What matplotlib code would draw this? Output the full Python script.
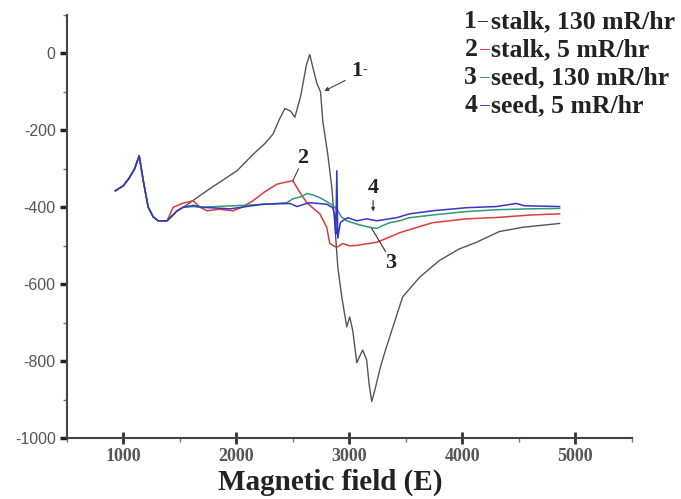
import numpy as np
import matplotlib.pyplot as plt
from matplotlib.ticker import MultipleLocator

# common start of all four spectra
start_x = [930, 1000, 1050, 1100, 1141, 1177, 1221, 1265, 1309, 1388, 1440, 1477, 1530]
start_y = [-357, -344, -325, -300, -266, -331, -400, -425, -435, -435, -420, -409, -400]

# 1 - stalk, 130 mR/hr
x1 = start_x + [1591, 1700, 1800, 2006, 2150, 2250, 2324, 2380, 2430, 2480, 2518, 2570,
                2620, 2650, 2680, 2712, 2745, 2765, 2809, 2845, 2870, 2898, 2933, 2977,
                3003, 3030, 3066, 3095, 3118, 3153, 3175, 3198, 3230, 3268, 3310, 3357,
                3471, 3621, 3798, 3974, 4124, 4327, 4530, 4860]
y1 = start_y + [-388, -365, -345, -305, -262, -235, -210, -172, -143, -150, -166, -110,
                -30, -3, -40, -77, -100, -176, -262, -349, -440, -556, -633, -711,
                -685, -720, -804, -785, -771, -797, -860, -905, -870, -823, -780, -737,
                -633, -582, -538, -508, -491, -463, -452, -442]

# 2 - stalk, 5 mR/hr
x2 = start_x[:-3] + [1441, 1520, 1618, 1680, 1741, 1850, 1971, 2050, 2147, 2250, 2359, 2430,
                     2500, 2560, 2624, 2690, 2739, 2800, 2827, 2860, 2889, 2942, 3000, 3066,
                     3150, 3242, 3350, 3445, 3533, 3736, 4036, 4327, 4600, 4860]
y2 = start_y[:-3] + [-400, -390, -383, -400, -409, -405, -409, -400, -383, -360, -340, -335,
                     -331, -360, -388, -405, -417, -452, -494, -500, -504, -494, -500, -499,
                     -495, -491, -478, -466, -458, -440, -430, -426, -420, -417]

# 3 - seed, 130 mR/hr
x3 = start_x + [1620, 1680, 1971, 2271, 2447, 2500, 2536, 2580, 2624, 2680, 2739, 2800,
                2853, 2889, 2930, 2977, 3080, 3180, 3242, 3300, 3357, 3445, 3533, 3736,
                4036, 4327, 4600, 4860]
y3 = start_y + [-398, -400, -396, -392, -388, -378, -375, -372, -364, -368, -375, -385,
                -395, -405, -425, -435, -445, -452, -455, -447, -440, -435, -427, -420,
                -411, -406, -404, -403]

# 4 - seed, 5 mR/hr
x4 = start_x + [1620, 1700, 1944, 2236, 2474, 2536, 2600, 2650, 2800, 2853, 2870, 2880,
                2889, 2898, 2920, 2942, 2986, 3066, 3153, 3242, 3418, 3533, 3736, 4036,
                4300, 4477, 4550, 4860]
y4 = start_y + [-395, -400, -404, -392, -390, -398, -392, -388, -392, -401, -420, -470,
                -305, -480, -440, -435, -427, -435, -430, -435, -427, -417, -409, -401,
                -398, -390, -396, -398]

legend_num = ['1', '2', '3', '4']
legend_txt = ['stalk, 130 mR/hr', 'stalk, 5 mR/hr', 'seed, 130 mR/hr', 'seed, 5 mR/hr']
colors = ['#555555', '#e03a3a', '#2f9a70', '#3535c8']
yticks = [-1000, -800, -600, -400, -200, 0]
xticks = [1000, 2000, 3000, 4000, 5000]

fig = plt.figure(figsize=(6.81, 4.99), dpi=100)
ax = fig.add_axes([0.098, 0.122, 0.83, 0.848])

ax.plot(x1, y1, color=colors[0], lw=1.0)
ax.plot(x2, y2, color=colors[1], lw=1.1)
ax.plot(x3, y3, color=colors[2], lw=1.1)
ax.plot(x4, y4, color=colors[3], lw=1.1)

ax.set_xlim(500, 5500)
ax.set_ylim(-1000, 100)
ax.xaxis.set_minor_locator(MultipleLocator(500))
ax.yaxis.set_minor_locator(MultipleLocator(100))
ax.set_xticks(xticks)
ax.set_xticklabels([str(v) for v in xticks], family='Liberation Serif', fontweight='bold')
ax.set_yticks(yticks)
ax.set_yticklabels([str(v) for v in yticks], family='Liberation Sans')
ax.spines['top'].set_visible(False)
ax.spines['right'].set_visible(False)
ax.spines['left'].set_linewidth(1.5)
ax.spines['bottom'].set_linewidth(1.5)
ax.spines['left'].set_color('#444444')
ax.spines['bottom'].set_color('#444444')
ax.tick_params(axis='y', which='major', direction='out', length=5, width=2.5, color='#222222',
               labelsize=11.5, labelcolor='#555555', pad=3)
ax.tick_params(axis='x', which='major', direction='inout', length=8, width=2, color='#333333',
               labelsize=13, labelcolor='#555555', pad=3)
ax.tick_params(which='minor', direction='out', length=3, width=1, color='#777777')

fig.text(0.485, 0.034, 'Magnetic field (E)', ha='center', va='center',
         family='Liberation Serif', fontweight='bold', fontsize=21, color='#222222')

# curve labels
lbl = dict(family='Liberation Serif', fontweight='bold', fontsize=16, color='#222222')
ax.text(3020, -45, '1', ha='left', va='center', **lbl)
ax.text(3120, -45, '-', ha='left', va='center', family='Liberation Serif', fontsize=10, color='#444444')
ax.annotate('', xy=(2756, -101), xytext=(2985, -67),
            arrowprops=dict(arrowstyle='-|>', lw=0.8, color='#444444', mutation_scale=6))
ax.text(2590, -272, '2', ha='center', va='center', **lbl)
ax.plot([2550, 2500], [-300, -331], color='#444444', lw=0.8)
ax.text(3210, -350, '4', ha='center', va='center', **lbl)
ax.annotate('', xy=(3210, -418), xytext=(3210, -375),
            arrowprops=dict(arrowstyle='-|>', lw=0.8, color='#333333', mutation_scale=5))
ax.text(3370, -545, '3', ha='center', va='center', **lbl)
ax.plot([3320, 3198], [-515, -455], color='#333333', lw=0.8)

# legend text
leg = dict(family='Liberation Serif', fontweight='bold', fontsize=18.5, color='#222222')
for i in range(4):
    yy = 0.956 - i * 0.056
    fig.text(0.682, yy, legend_num[i], ha='left', va='center', **leg)
    fig.text(0.700 + (0.003 if i > 0 else 0), yy, '\u2013', ha='left', va='center',
             family='Liberation Serif', fontweight='bold', fontsize=14,
             color=colors[i] if i > 0 else '#222222')
    fig.text(0.721, yy, legend_txt[i], ha='left', va='center', **leg)

fig.savefig('out.png', dpi=100)
